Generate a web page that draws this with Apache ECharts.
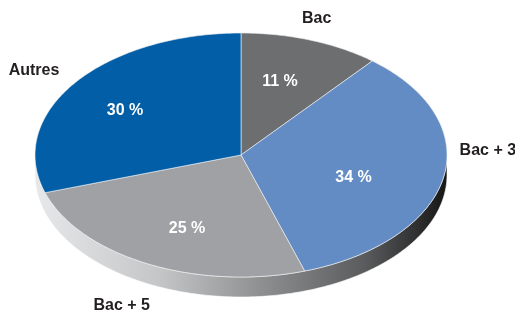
<!DOCTYPE html>
<html>
<head>
<meta charset="utf-8">
<script src="https://cdn.jsdelivr.net/npm/echarts@6/dist/echarts.min.js"></script>
<style>
  html, body { margin: 0; padding: 0; background: #fff; }
  #main { width: 515px; height: 314px; }
</style>
</head>
<body>
<div id="main"></div>
<script>
// données
var categories = ['Bac', 'Bac + 3', 'Bac + 5', 'Autres'];
var values = [11, 34, 25, 30];
var colors = ['#6d6e70', '#648cc4', '#a0a1a4', '#035ea8'];

// mise en page du camembert (ellipse)
var cx = 241, cy = 155, rx = 206, ry = 122, depth = 20;
var innerNudge = [[-5, -1], [-15, 8], [5, 5], [-11, 1]];
var outerNudge = [[-8, 1], [4, -36], [-7, 2], [-7, 2]];

var total = values.reduce(function (a, b) { return a + b; }, 0);

function pt(deg, r, dy) {
    var a = deg * Math.PI / 180;
    return [cx + rx * r * Math.sin(a), cy - ry * r * Math.cos(a) + (dy || 0)];
}

function arc(a0, a1, dy) {
    var pts = [];
    var n = Math.max(2, Math.ceil(Math.abs(a1 - a0)));
    for (var i = 0; i <= n; i++) {
        pts.push(pt(a0 + (a1 - a0) * i / n, 1, dy));
    }
    return pts;
}

var Mychart = echarts.init(document.getElementById('main'));

var option = {
    backgroundColor: '#fff',
    animation: false,
    series: [{
        // tranche (épaisseur)
        type: 'custom',
        coordinateSystem: 'none',
        data: [total],
        silent: true,
        renderItem: function (params, api) {
            var top = arc(90, 270, 0);
            var bottom = arc(270, 90, depth);
            return {
                type: 'polygon',
                shape: { points: top.concat(bottom) },
                style: {
                    fill: new echarts.graphic.LinearGradient(0, 0, 1, 0, [
                        { offset: 0, color: '#e6e8ea' },
                        { offset: 0.3, color: '#c4c6c8' },
                        { offset: 0.55, color: '#8e8f91' },
                        { offset: 0.8, color: '#5a5b5d' },
                        { offset: 1, color: '#161616' }
                    ]),
                    stroke: '#fff',
                    lineWidth: 0.6
                }
            };
        }
    }, {
        // faces
        type: 'custom',
        coordinateSystem: 'none',
        data: values,
        renderItem: function (params, api) {
            var i = params.dataIndex;
            var before = 0;
            for (var k = 0; k < i; k++) before += values[k];
            var a0 = before / total * 360;
            var a1 = (before + api.value(0)) / total * 360;
            var mid = (a0 + a1) / 2;
            var pts = [[cx, cy]].concat(arc(a0, a1, 0));

            var ip = pt(mid, 0.63);
            var midRad = mid * Math.PI / 180;
            var down = Math.cos(midRad) < 0 ? -Math.cos(midRad) * depth : 0;
            var op = pt(mid, 1.2, down);

            return {
                type: 'group',
                children: [{
                    type: 'polygon',
                    shape: { points: pts },
                    style: { fill: colors[i], stroke: '#f2f2f2', lineWidth: 0.6 }
                }, {
                    type: 'text',
                    style: {
                        text: api.value(0) + ' %',
                        x: ip[0] + innerNudge[i][0],
                        y: ip[1] + innerNudge[i][1],
                        fill: '#fff',
                        font: 'bold 16px "Liberation Sans", Arial, sans-serif',
                        textAlign: 'center',
                        textVerticalAlign: 'middle',
                        align: 'center',
                        verticalAlign: 'middle'
                    }
                }, {
                    type: 'text',
                    style: {
                        text: categories[i],
                        x: op[0] + outerNudge[i][0],
                        y: op[1] + outerNudge[i][1],
                        fill: '#231f20',
                        font: 'bold 16px "Liberation Sans", Arial, sans-serif',
                        textAlign: 'center',
                        textVerticalAlign: 'middle',
                        align: 'center',
                        verticalAlign: 'middle'
                    }
                }]
            };
        }
    }]
};
Mychart.setOption(option);
</script>
</body>
</html>
